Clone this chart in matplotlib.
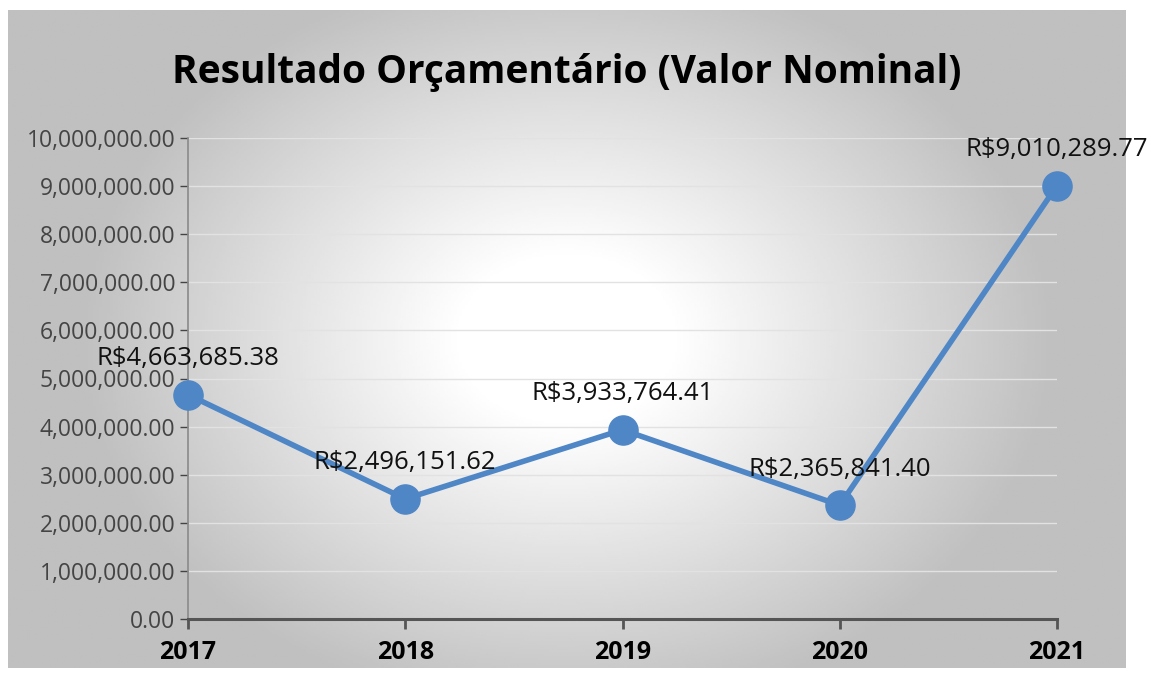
import numpy as np
import matplotlib
matplotlib.use("Agg")
import matplotlib.pyplot as plt
from matplotlib.ticker import FuncFormatter

anos = ["2017", "2018", "2019", "2020", "2021"]
valores = [4663685.38, 2496151.62, 3933764.41, 2365841.40, 9010289.77]
rotulos = ["R$4,663,685.38", "R$2,496,151.62", "R$3,933,764.41", "R$2,365,841.40", "R$9,010,289.77"]
yticks = np.arange(0, 10000001, 1000000)

plt.rcParams['font.family'] = ['Open Sans', 'DejaVu Sans']

fig = plt.figure(figsize=(11.54, 6.75), dpi=100)
fig.patch.set_facecolor("white")

# chart area background with radial gradient
bg = fig.add_axes([8/1154, 1 - 668/675, (1125 - 8)/1154, (668 - 10)/675])
gx, gy = np.meshgrid(np.linspace(-1, 1, 400), np.linspace(-1, 1, 300))
r = np.sqrt((gx / 0.95) ** 2 + (gy / 1.25) ** 2)
shade = np.clip(1.0 - 0.26 * np.clip((r - 0.2) / 0.75, 0, 1), 0.75, 1.0)
bg.imshow(shade, cmap="gray", vmin=0, vmax=1, aspect="auto", extent=[0, 1, 0, 1])
bg.set_axis_off()

ax = fig.add_axes([188/1154, 1 - 619/675, (1057 - 188)/1154, (619 - 138)/675])
ax.patch.set_alpha(0)
x = np.arange(len(anos))
ax.plot(x, valores, color="#4f86c6", lw=4, marker="o", ms=21, zorder=3, clip_on=False)

for xi, v, lab in zip(x, valores, rotulos):
    ax.annotate(lab, (xi, v), xytext=(0, 26), textcoords="offset points",
                ha="center", va="center", fontsize=18.5, fontweight="medium",
                color="#111111", zorder=4, annotation_clip=False)

ax.set_xlim(0, len(anos) - 1)
ax.set_ylim(0, 10000000)
ax.set_xticks(x)
ax.set_xticklabels(anos, fontsize=18, fontweight="bold", color="black")
ax.set_yticks(yticks)
ax.yaxis.set_major_formatter(FuncFormatter(lambda v, p: f"{v:,.2f}"))
ax.tick_params(axis="y", labelsize=16.5, colors="#444444", length=6, width=1, pad=3)
ax.tick_params(axis="x", length=7, width=2, color="#555555", pad=8)
ax.grid(axis="y", color="#e2e2e2", lw=1)
ax.set_axisbelow(True)

for s in ["top", "right"]:
    ax.spines[s].set_visible(False)
ax.spines["left"].set_color("#8a8a8a")
ax.spines["left"].set_linewidth(1.2)
ax.spines["bottom"].set_color("#555555")
ax.spines["bottom"].set_linewidth(2.2)

fig.text(567/1154, 1 - 72/675, "Resultado Orçamentário (Valor Nominal)", ha="center", va="center",
         fontsize=28, fontweight="bold", color="black")

fig.savefig("out.png", dpi=100)
